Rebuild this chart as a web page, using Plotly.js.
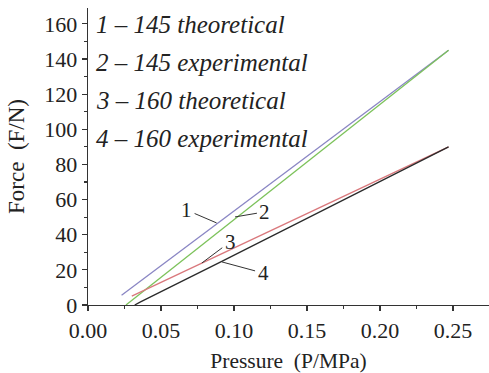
<!DOCTYPE html>
<html>
<head>
<meta charset="utf-8">
<script src="https://cdn.plot.ly/plotly-3.0.1.min.js"></script>
<style>html,body{margin:0;padding:0;background:#fff;}#chart{width:489px;height:373px;}</style>
</head>
<body>
<div id="chart"></div>
<script>
// Data
const x1 = [0.023, 0.247];
const y1 = [5.5, 145];
const x2 = [0.026, 0.247];
const y2 = [0, 145];
const x3 = [0.030, 0.078, 0.247];
const y3 = [5, 23.8, 90];
const x4 = [0.032, 0.036, 0.092, 0.247];
const y4 = [0, 1.8, 25, 90];
const seriesNames = ["1 – 145 theoretical", "2 – 145 experimental", "3 – 160 theoretical", "4 – 160 experimental"];
const curveLabels = ["1", "2", "3", "4"];
const labelPos = [[0.0676, 54], [0.1212, 53], [0.0973, 35.9], [0.1199, 18.2]];
const labelTarget = [[0.0881, 46.7], [0.1007, 50.1], [0.078, 23.9], [0.0918, 24.5]];
const legendY = [159.5, 137.9, 116.2, 94.6];

const colors = ["#8a86c4", "#7cc25a", "#d9787c", "#2a2a2a"];
const xs = [x1, x2, x3, x4], ys = [y1, y2, y3, y4];
const traces = xs.map((x, i) => ({
  x: x, y: ys[i], type: "scatter", mode: "lines", name: seriesNames[i],
  line: {color: colors[i], width: 1.3}, showlegend: false, hoverinfo: "skip"
}));

const serif = "'Liberation Serif', 'Times New Roman', serif";
const annotations = [];
seriesNames.forEach((t, i) => {
  annotations.push({x: 0.004, y: legendY[i], xref: "x", yref: "y", text: "<i>" + t + "</i>",
    showarrow: false, xanchor: "left", yanchor: "middle", font: {family: serif, size: 25, color: "#222"}});
});
curveLabels.forEach((t, i) => {
  annotations.push({x: labelTarget[i][0], y: labelTarget[i][1], ax: labelPos[i][0], ay: labelPos[i][1],
    xref: "x", yref: "y", axref: "x", ayref: "y", text: t, showarrow: true, arrowhead: 0,
    arrowwidth: 1, arrowcolor: "#333", standoff: 0, startstandoff: 1,
    font: {family: serif, size: 21, color: "#222"}});
});

const layout = {
  width: 489, height: 373,
  margin: {l: 88, r: 0, t: 8, b: 68},
  paper_bgcolor: "#fff", plot_bgcolor: "#fff",
  font: {family: serif, color: "#222"},
  xaxis: {
    range: [0, 0.2747], tickvals: [0, 0.05, 0.1, 0.15, 0.2, 0.25],
    ticktext: ["0.00", "0.05", "0.10", "0.15", "0.20", "0.25"],
    showgrid: false, zeroline: false, showline: true, linecolor: "#333", linewidth: 1.3,
    ticks: "outside", ticklen: 5, tickcolor: "#333", tickwidth: 1.2,
    minor: {dtick: 0.025, tick0: 0, ticks: "outside", ticklen: 3, tickcolor: "#333", showgrid: false},
    tickfont: {family: serif, size: 22, color: "#222"},
    title: {text: "Pressure  (P/MPa)", font: {family: serif, size: 21.5, color: "#222"}, standoff: 15}
  },
  yaxis: {
    range: [0, 169], tickvals: [0, 20, 40, 60, 80, 100, 120, 140, 160],
    showgrid: false, zeroline: false, showline: true, linecolor: "#333", linewidth: 1.3,
    ticks: "outside", ticklen: 5, tickcolor: "#333", tickwidth: 1.2,
    minor: {dtick: 10, tick0: 0, ticks: "outside", ticklen: 3, tickcolor: "#333", showgrid: false},
    tickfont: {family: serif, size: 22, color: "#222"},
    title: {text: "Force  (F/N)", font: {family: serif, size: 23, color: "#222"}, standoff: 13}
  },
  annotations: annotations
};

Plotly.newPlot("chart", traces, layout, {displayModeBar: false, staticPlot: true});
</script>
</body>
</html>
